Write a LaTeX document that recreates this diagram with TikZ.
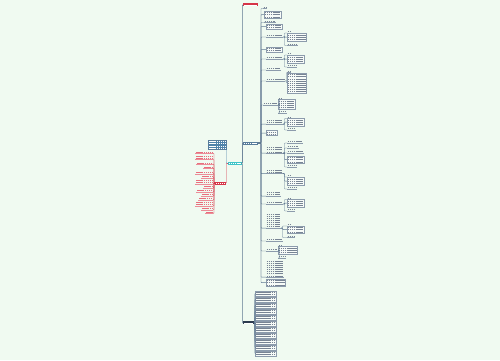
\documentclass[tikz,border=0pt]{standalone}
\definecolor{bg}{RGB}{240,250,241}
\definecolor{tgray}{RGB}{120,132,148}
\definecolor{lnc}{RGB}{95,120,145}
\definecolor{boxc}{RGB}{140,155,172}
\definecolor{boxf}{RGB}{248,252,249}
\definecolor{redn}{RGB}{214,52,72}
\definecolor{redt}{RGB}{232,110,125}
\definecolor{redl}{RGB}{236,140,152}
\definecolor{cteal}{RGB}{62,196,200}
\definecolor{bluen}{RGB}{88,124,155}
\definecolor{imgb}{RGB}{78,130,170}
\definecolor{navy}{RGB}{44,58,78}
\tikzset{
  tc/.store in=\tcol, tc=tgray,
  nl/.style={minimum height={#1*2.1pt+0.9pt}, path picture={\foreach \k in {1,...,#1}{\draw[draw=\tcol,line width=0.55pt,dash pattern=on 1.6pt off 0.35pt] ([shift={(0.7pt,{0.45pt-\k*2.1pt})}]path picture bounding box.north west) -- ([shift={(-0.7pt,{0.45pt-\k*2.1pt})}]path picture bounding box.north east);}}},
  nd/.style={anchor=north west, inner sep=0pt, outer sep=0pt, minimum width=#1},
  ndr/.style={anchor=north east, inner sep=0pt, outer sep=0pt, minimum width=#1},
  U/.style={append after command={(\tikzlastnode.south west) edge[draw=#1,line width=0.35pt] (\tikzlastnode.south east)}},
  U/.default=boxc,
  X/.style={draw=boxc, line width=0.35pt, fill=boxf},
  conn/.style={draw=lnc, line width=0.45pt, rounded corners=0.6pt},
  connr/.style={draw=redn, line width=0.45pt, rounded corners=0.6pt},
  connb/.style={draw=imgb, line width=0.45pt, rounded corners=0.6pt},
}
\begin{document}
\begin{tikzpicture}[x=1pt,y=-1pt]
\fill[bg] (0,0) rectangle (500,360);
\useasboundingbox (0,0) rectangle (500,360);

% central and main nodes
\node[nd=13.5,nl=1,fill=cteal,tc=white] (C) at (228,161.8) {};
\node[nd=17.7,nl=4,fill=imgb,draw=bluen,line width=0.3pt,tc=white] (I) at (208.3,140) {};
\node[nd=10.5,nl=1,fill=redn,tc=white] (L) at (215,181.5) {};
\node[nd=15,nl=1,fill=redn,tc=white] (R1) at (242.8,3.3) {};
\node[nd=15,nl=1,fill=bluen,tc=white] (B) at (243,141.5) {};
\node[nd=11,nl=1,fill=navy,tc=white] (D) at (242.8,321.3) {};

% left red list
\node[ndr=18,nl=1,U=redl,tc=redt] (l1) at (213.3,150.3) {};
\node[ndr=18,nl=2,U=redl,tc=redt] (l2) at (213.3,154.4) {};
\node[ndr=17,nl=1,U=redl,tc=redt] (l3) at (213.3,161.3) {};
\node[ndr=10,nl=1,U=redl,tc=redt] (l4) at (213.3,165.3) {};
\node[ndr=18,nl=1,U=redl,tc=redt] (l5) at (213.3,170.7) {};
\node[ndr=12,nl=1,U=redl,tc=redt] (l6) at (213.3,174.7) {};
\node[ndr=18,nl=2,U=redl,tc=redt] (l7) at (213.3,178.7) {};
\node[ndr=10,nl=1,U=redl,tc=redt] (l8) at (213.3,184.7) {};
\node[ndr=17,nl=1,U=redl,tc=redt] (l9) at (213.3,189) {};
\node[ndr=12,nl=1,U=redl,tc=redt] (l10) at (213.3,193) {};
\node[ndr=15,nl=1,U=redl,tc=redt] (l11) at (213.3,197) {};
\node[ndr=18,nl=2,U=redl,tc=redt] (l12) at (213.3,200.9) {};
\node[ndr=12,nl=1,U=redl,tc=redt] (l13) at (213.3,207) {};
\node[ndr=8,nl=1,U=redl,tc=redt] (l14) at (213.3,210.3) {};

% right level 2
\node[nd=4,nl=1,U] (r1) at (263,5.5) {};
\node[nd=17,nl=3,X] (r2) at (264,11) {};
\node[nd=12,nl=1,U] (r3) at (264,19.5) {};
\node[nd=16,nl=2,X] (r4) at (266,24) {};
\node[nd=17,nl=1,U] (r5) at (266,34) {};
\node[nd=16,nl=2,X] (r6) at (266,47) {};
\node[nd=17,nl=1,U] (r7) at (266,56) {};
\node[nd=15,nl=1,U] (r8) at (266,67) {};
\node[nd=19,nl=1,U] (r9) at (266,78) {};
\node[nd=15,nl=1,U] (r10) at (263,102) {};
\node[nd=17,nl=2,U] (r11) at (266,119) {};
\node[nd=11,nl=2,X] (r12) at (266,130.5) {};
\node[nd=17,nl=3,U] (r13) at (266,146) {};
\node[nd=17,nl=2,U] (r14) at (266,168.5) {};
\node[nd=15,nl=2,U] (r15) at (266,191) {};
\node[nd=17,nl=1,U] (r16) at (266,201) {};
\node[nd=15,nl=7,U] (r17) at (266,212.5) {};
\node[nd=17,nl=1,U] (r18) at (266,238) {};
\node[nd=12,nl=1,U] (r19) at (266,248) {};
\node[nd=18,nl=8,U] (r20) at (266,259.5) {};
\node[nd=19,nl=3,X] (r21) at (266,279) {};

% right level 3
\node[nd=4,nl=1,U] (c5a) at (287,30) {};
\node[nd=19,nl=3,X] (c5b) at (287,33.5) {};
\node[nd=11,nl=1,U] (c5c) at (287,42.5) {};
\node[nd=4,nl=1,U] (c7a) at (287,52) {};
\node[nd=17,nl=3,X] (c7b) at (287,55.5) {};
\node[nd=10,nl=1,U] (c7c) at (287,64) {};
\node[nd=4,nl=1,U] (c9a) at (287,69.5) {};
\node[nd=19,nl=9,X] (c9b) at (287,73) {};
\node[nd=4,nl=1,U] (c10a) at (278,96.5) {};
\node[nd=17,nl=4,X] (c10b) at (278,99.5) {};
\node[nd=9,nl=1,U] (c10c) at (278,110) {};
\node[nd=4,nl=1,U] (c11a) at (287,115.5) {};
\node[nd=17,nl=3,X] (c11b) at (287,118.5) {};
\node[nd=9,nl=1,U] (c11c) at (287,127) {};
\node[nd=16,nl=1,U] (c13a) at (287,140) {};
\node[nd=12,nl=1,U] (c13b) at (287,145) {};
\node[nd=17,nl=1,U] (c13c) at (287,150) {};
\node[nd=17,nl=3,X] (c13d) at (287,156) {};
\node[nd=10,nl=1,U] (c13e) at (287,164) {};
\node[nd=4,nl=1,U] (c14a) at (287,174) {};
\node[nd=17,nl=3,X] (c14b) at (287,177.5) {};
\node[nd=10,nl=1,U] (c14c) at (287,186) {};
\node[nd=4,nl=1,U] (c16a) at (287,196.5) {};
\node[nd=17,nl=3,X] (c16b) at (287,199.5) {};
\node[nd=8,nl=1,U] (c16c) at (287,208) {};
\node[nd=4,nl=1,U] (c17a) at (287,223) {};
\node[nd=17,nl=3,X] (c17b) at (287,226) {};
\node[nd=8,nl=1,U] (c17c) at (287,234.5) {};
\node[nd=4,nl=1,U] (c19a) at (278,243.5) {};
\node[nd=19,nl=3,X] (c19b) at (278,246.5) {};
\node[nd=8,nl=1,U] (c19c) at (278,255) {};

% bottom list
\node[nd=21,nl=2,X] (d1) at (255.5,291) {};
\node[nd=21,nl=2,X] (d2) at (255.5,297) {};
\node[nd=21,nl=2,X] (d3) at (255.5,303) {};
\node[nd=21,nl=2,X] (d4) at (255.5,309) {};
\node[nd=21,nl=2,X] (d5) at (255.5,315) {};
\node[nd=21,nl=2,X] (d6) at (255.5,321) {};
\node[nd=21,nl=2,X] (d7) at (255.5,327) {};
\node[nd=21,nl=2,X] (d8) at (255.5,333) {};
\node[nd=21,nl=2,X] (d9) at (255.5,339) {};
\node[nd=21,nl=2,X] (d10) at (255.5,345) {};
\node[nd=21,nl=2,X] (d11) at (255.5,351) {};

% connectors: centre
\draw[connb] (C.west) -- ++(-1.5,0) |- (I.east);
\draw[connr] (C.west) -- ++(-1.5,0) |- (L.east);
\draw[conn] (C.east) -- ++(0.8,0) |- (R1.west);
\draw[conn] (C.east) -- ++(0.8,0) |- (B.west);
\draw[conn] (C.east) -- ++(0.8,0) |- (D.west);

% left
\foreach \n in {l1,l2,l3,l4,l5,l6,l7,l8,l9,l10,l11,l12,l13,l14}
  \draw[connr] (L.west) -- ++(-1,0) |- (\n.south east);

% B children
\foreach \n in {r1,r3,r5,r7,r8,r9,r10,r11,r13,r14,r15,r16,r17,r18,r19,r20}
  \draw[conn] (B.east) -- ++(3,0) |- (\n.south west);
\foreach \n in {r2,r4,r6,r12,r21}
  \draw[conn] (B.east) -- ++(3,0) |- (\n.west);

% level 3
\foreach \p/\a/\b/\c in {r5/c5a/c5b/c5c, r7/c7a/c7b/c7c, r10/c10a/c10b/c10c, r11/c11a/c11b/c11c, r14/c14a/c14b/c14c, r16/c16a/c16b/c16c, r17/c17a/c17b/c17c, r19/c19a/c19b/c19c}{
  \draw[conn] (\p.south east) -- ++(1.5,0) |- (\a.south west);
  \draw[conn] (\p.south east) -- ++(1.5,0) |- (\b.west);
  \draw[conn] (\p.south east) -- ++(1.5,0) |- (\c.south west);
}
\draw[conn] (r9.south east) -- ++(1.5,0) |- (c9a.south west);
\draw[conn] (r9.south east) -- ++(1.5,0) |- (c9b.west);
\foreach \n in {c13a,c13b,c13c,c13e}
  \draw[conn] (r13.south east) -- ++(1.5,0) |- (\n.south west);
\draw[conn] (r13.south east) -- ++(1.5,0) |- (c13d.west);

% bottom
\foreach \n in {d1,d2,d3,d4,d5,d6,d7,d8,d9,d10,d11}
  \draw[conn] (D.east) -- ++(1,0) |- (\n.west);
\end{tikzpicture}
\end{document}
